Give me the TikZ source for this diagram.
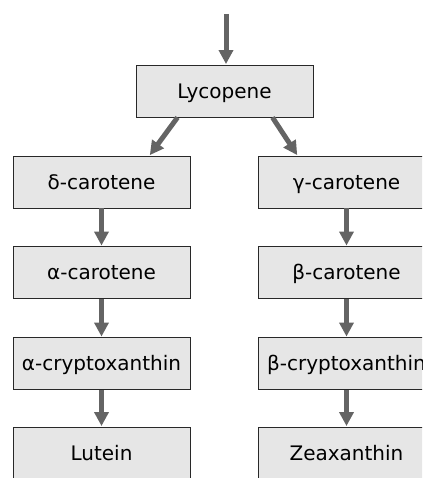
\documentclass[tikz,border=0pt]{standalone}
\usepackage{fontspec}
\setmainfont{DejaVu Sans}
\usetikzlibrary{arrows.meta}
\definecolor{boxfill}{RGB}{230,230,230}
\definecolor{boxline}{RGB}{40,40,40}
\definecolor{arr}{RGB}{100,100,100}
\tikzset{
  compound/.style={draw=boxline, line width=0.9pt, fill=boxfill, minimum width=177pt, minimum height=52pt, inner sep=0pt, text height=14.6pt, text depth=0pt, font=\fontsize{20}{24}\selectfont},
  conv/.style={draw=arr, line width=5pt, -{Triangle[length=14pt,width=14pt]}, shorten >=0.5pt}
}
\begin{document}
\begin{tikzpicture}[x=1pt,y=-1pt]
\useasboundingbox (0,0) rectangle (422,478);
\clip (0,0) rectangle (422,478);
\node[compound] (lyc) at (224.5,91) {Lycopene};
\node[compound] (dc) at (101.5,182) {δ-carotene};
\node[compound] (ac) at (101.5,272.5) {α-carotene};
\node[compound] (acx) at (101.5,363.5) {α-cryptoxanthin};
\node[compound] (lut) at (101.5,453) {Lutein};
\node[compound] (gc) at (346.5,182) {γ-carotene};
\node[compound] (bc) at (346.5,272.5) {β-carotene};
\node[compound] (bcx) at (346.5,363.5) {β-cryptoxanthin};
\node[compound] (zea) at (346.5,453) {Zeaxanthin};
\coordinate (start) at (226,14);
\draw[conv] (start) -- (lyc.north -| start);
\draw[conv] ([xshift=-47pt]lyc.south) -- ([xshift=48pt]dc.north);
\draw[conv] ([xshift=48pt]lyc.south) -- ([xshift=-49pt]gc.north);
\draw[conv] (dc) -- (ac);
\draw[conv] (ac) -- (acx);
\draw[conv] (acx) -- (lut);
\draw[conv] (gc) -- (bc);
\draw[conv] (bc) -- (bcx);
\draw[conv] (bcx) -- (zea);
\end{tikzpicture}
\end{document}
